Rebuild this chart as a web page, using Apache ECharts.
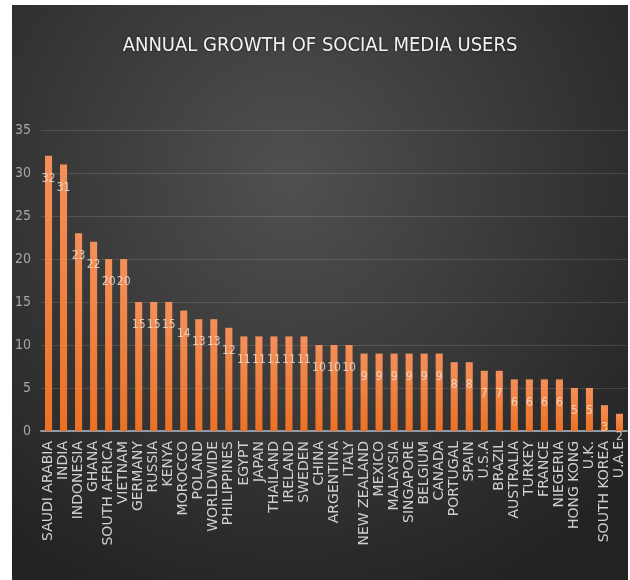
<!DOCTYPE html>
<html>
<head>
<meta charset="utf-8">
<script src="https://cdn.jsdelivr.net/npm/echarts@6/dist/echarts.min.js"></script>
<style>
html,body{margin:0;padding:0;background:#fff;width:630px;height:580px;overflow:hidden;}
#chart{position:absolute;left:12px;top:5px;width:616px;height:575px;}
</style>
</head>
<body>
<div id="chart"></div>
<script>
const categories = ["SAUDI ARABIA","INDIA","INDONESIA","GHANA","SOUTH AFRICA","VIETNAM","GERMANY","RUSSIA","KENYA","MOROCCO","POLAND","WORLDWIDE","PHILIPPINES","EGYPT","JAPAN","THAILAND","IRELAND","SWEDEN","CHINA","ARGENTINA","ITALY","NEW ZEALAND","MEXICO","MALAYSIA","SINGAPORE","BELGIUM","CANADA","PORTUGAL","SPAIN","U.S.A","BRAZIL","AUSTRALIA","TURKEY","FRANCE","NIEGERIA","HONG KONG","U.K.","SOUTH KOREA","U.A.E"];
const growth = [32,31,23,22,20,20,15,15,15,14,13,13,12,11,11,11,11,11,10,10,10,9,9,9,9,9,9,8,8,7,7,6,6,6,6,5,5,3,2];
const yTicks = [0,5,10,15,20,25,30,35];

const narrow = "'DejaVu Sans Condensed','Liberation Sans Narrow',sans-serif";
const chart = echarts.init(document.getElementById('chart'));
chart.setOption({
  backgroundColor: {
    type: 'radial', x: 0.45, y: 0.3, r: 0.8,
    colorStops: [{offset: 0, color: '#505050'}, {offset: 1, color: '#222222'}]
  },
  title: {
    text: 'ANNUAL GROWTH OF SOCIAL MEDIA USERS',
    left: 'center', top: 26,
    textStyle: {color: '#f2f2f2', fontSize: 20, fontWeight: 'normal', fontFamily: narrow,
      textShadowColor: 'rgba(0,0,0,0.6)', textShadowBlur: 3}
  },
  grid: {left: 25, right: 1, top: 125, bottom: 149},
  xAxis: {
    type: 'category', data: categories,
    axisTick: {show: false},
    axisLine: {lineStyle: {color: '#8f9ba6', width: 2}},
    axisLabel: {rotate: 90, interval: 0, margin: 10, color: '#d0d0d0', fontSize: 14,
      fontFamily: "'DejaVu Sans',sans-serif"}
  },
  yAxis: {
    type: 'value', min: 0, max: 35, interval: 5,
    axisLine: {show: false}, axisTick: {show: false},
    axisLabel: {color: '#a6a6a6', fontSize: 14, margin: 10, fontFamily: narrow,
      formatter: v => yTicks.includes(v) ? String(v) : ''},
    splitLine: {lineStyle: {color: 'rgba(255,255,255,0.13)', width: 1}}
  },
  series: [{
    type: 'bar', data: growth, barWidth: '47%',
    itemStyle: {color: {type: 'linear', x: 0, y: 0, x2: 0, y2: 1,
      colorStops: [{offset: 0, color: '#F4905A'}, {offset: 1, color: '#EC7125'}]}},
    label: {show: true, position: 'insideTop', distance: 17, color: 'rgba(245,230,220,0.8)',
      fontSize: 12, fontFamily: narrow}
  }]
});
</script>
</body>
</html>
